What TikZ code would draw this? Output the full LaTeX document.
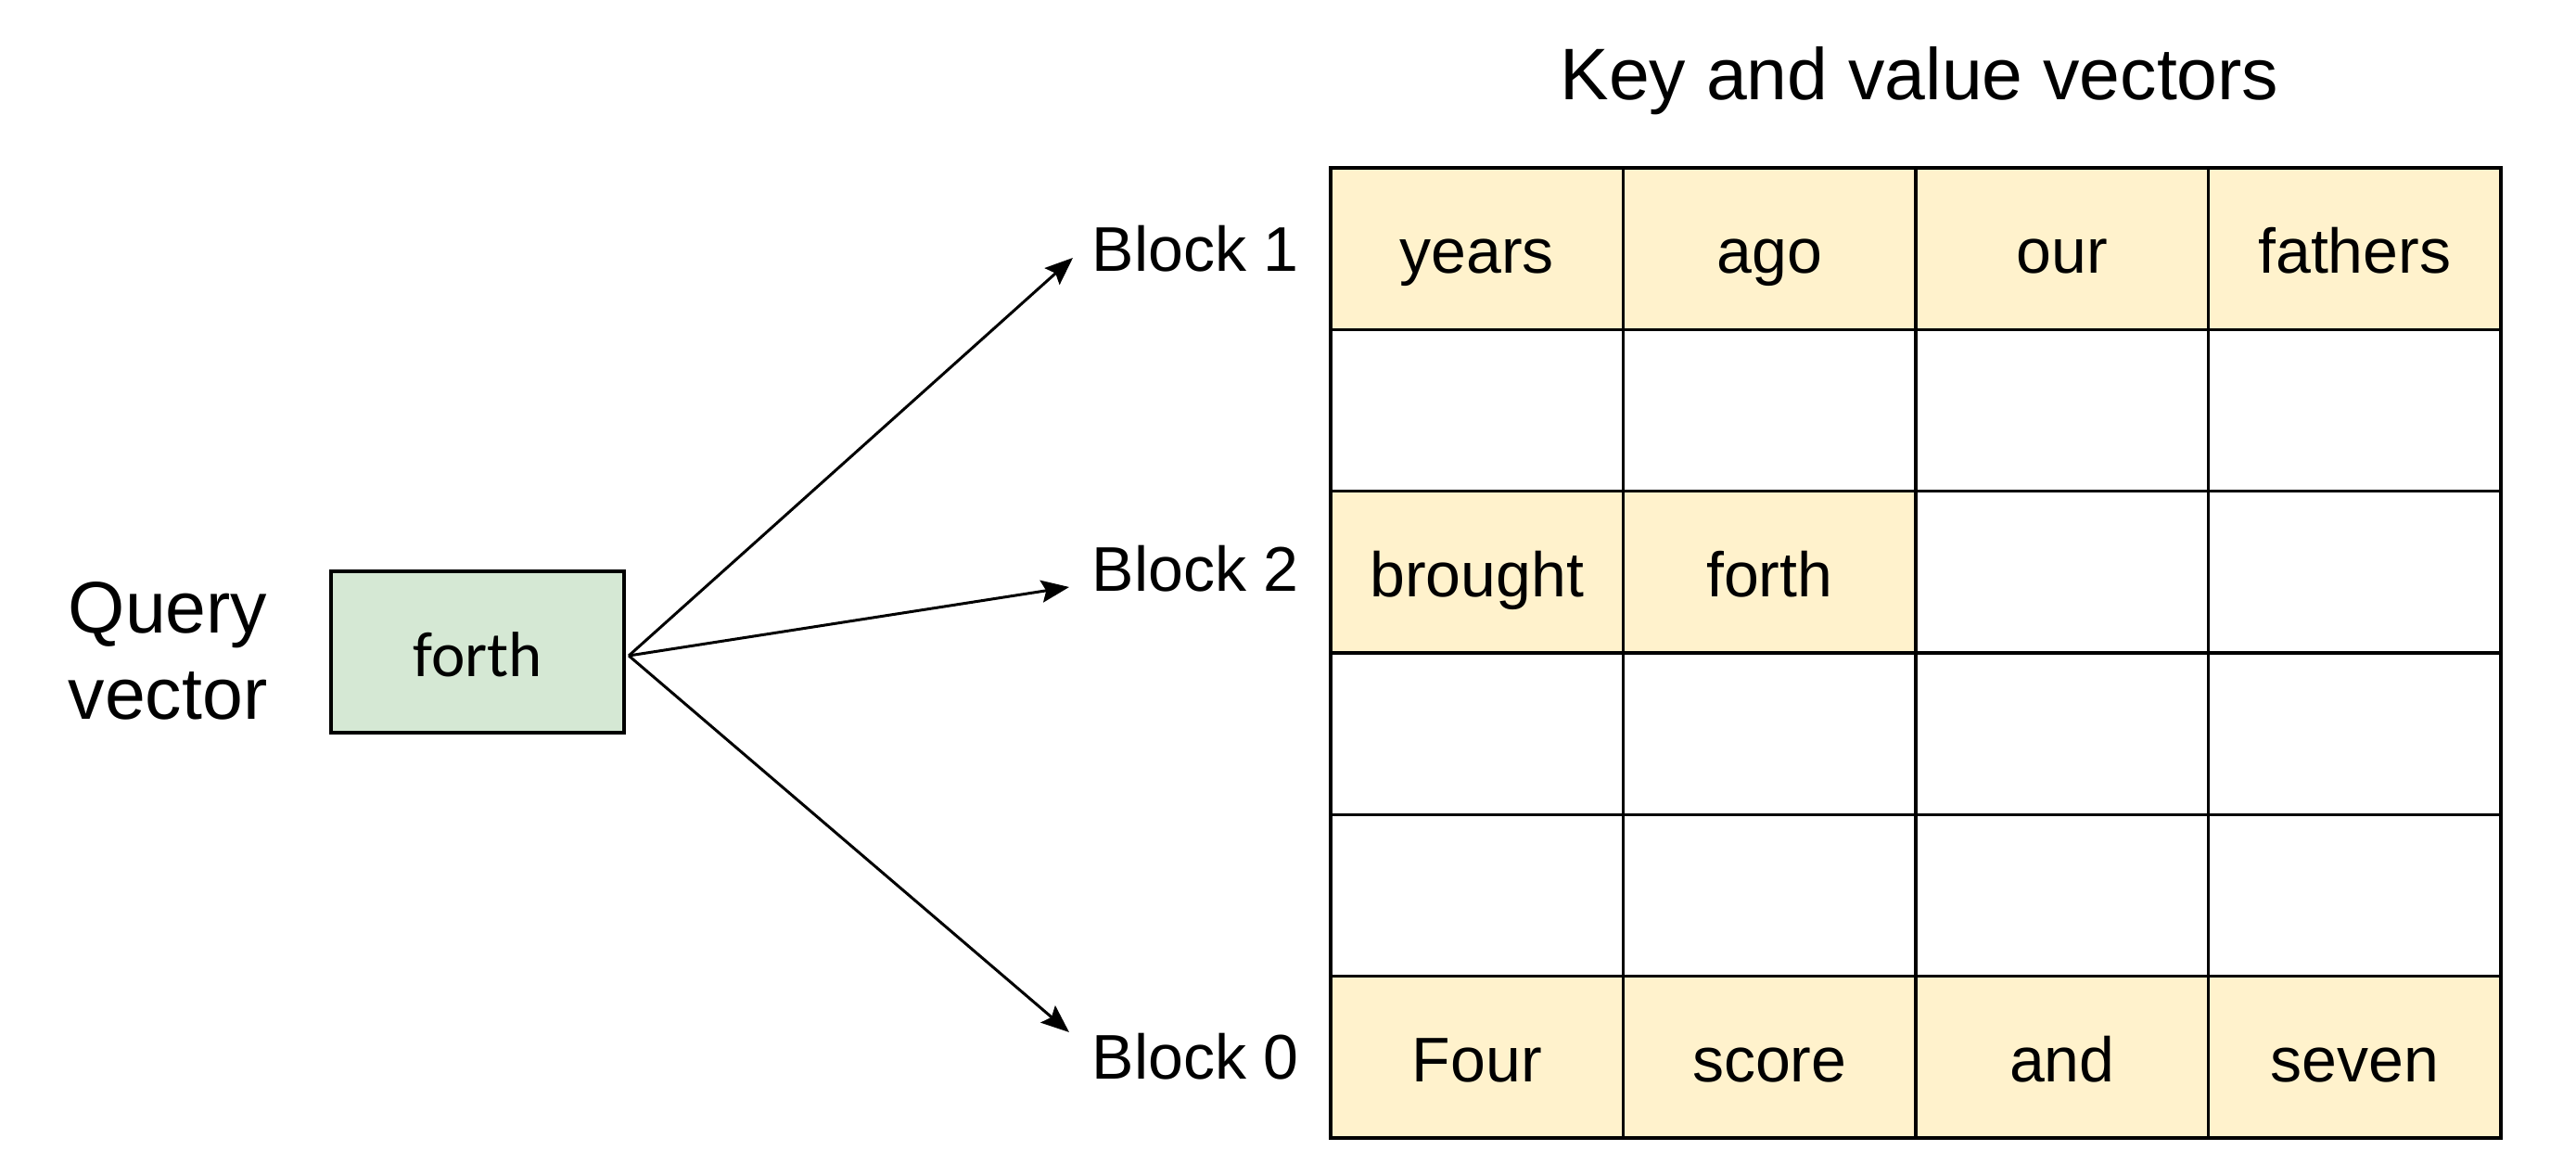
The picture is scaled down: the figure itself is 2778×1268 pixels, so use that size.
\documentclass[tikz,border=0pt]{standalone}
\usepackage{fontspec}
\setmainfont{Liberation Sans}
\newfontfamily\calfont{Carlito}
\usetikzlibrary{arrows.meta}
\definecolor{cellyellow}{HTML}{FFF2CC}
\definecolor{qgreen}{HTML}{D5E8D4}
\begin{document}
\begin{tikzpicture}[x=0.01cm,y=-0.01cm,
  cellfont/.style={font=\fontsize{19.35pt}{23pt}\selectfont},
  titlefont/.style={font=\fontsize{22.4pt}{26.5pt}\selectfont},
  cell/.style={draw=black, line width=0.032cm, minimum width=3.155cm, minimum height=1.7433cm,
    inner sep=0pt, outer sep=0pt, text height=0.53cm, text depth=0pt, cellfont},
  ycell/.style={cell, fill=cellyellow},
  wcell/.style={cell, fill=white},
  blocklabel/.style={cellfont, anchor=base west, inner sep=0pt},
  arrowline/.style={line width=0.03cm, -{Stealth[length=0.3cm, width=0.24cm, inset=0.05cm]}}
]
\useasboundingbox (0,0) rectangle (2778,1268);
\fill[white] (0,0) rectangle (2778,1268);

% title
\node[titlefont, anchor=base, inner sep=0pt] (title) at (2070,108) {Key and value vectors};

% grid cells
\node[ycell] (c00) at (1592.75,268.17) {years};
\node[ycell] (c01) at (1908.25,268.17) {ago};
\node[ycell] (c02) at (2223.75,268.17) {our};
\node[ycell] (c03) at (2539.25,268.17) {fathers};
\node[wcell] (c10) at (1592.75,442.50) {};
\node[wcell] (c11) at (1908.25,442.50) {};
\node[wcell] (c12) at (2223.75,442.50) {};
\node[wcell] (c13) at (2539.25,442.50) {};
\node[ycell] (c20) at (1592.75,616.83) {brought};
\node[ycell] (c21) at (1908.25,616.83) {forth};
\node[wcell] (c22) at (2223.75,616.83) {};
\node[wcell] (c23) at (2539.25,616.83) {};
\node[wcell] (c30) at (1592.75,791.17) {};
\node[wcell] (c31) at (1908.25,791.17) {};
\node[wcell] (c32) at (2223.75,791.17) {};
\node[wcell] (c33) at (2539.25,791.17) {};
\node[wcell] (c40) at (1592.75,965.50) {};
\node[wcell] (c41) at (1908.25,965.50) {};
\node[wcell] (c42) at (2223.75,965.50) {};
\node[wcell] (c43) at (2539.25,965.50) {};
\node[ycell] (c50) at (1592.75,1139.83) {Four};
\node[ycell] (c51) at (1908.25,1139.83) {score};
\node[ycell] (c52) at (2223.75,1139.83) {and};
\node[ycell] (c53) at (2539.25,1139.83) {seven};
\draw[line width=0.042cm] (c00.north west) rectangle (c53.south east);

% block labels
\node[blocklabel] (b1) at (1177,293) {Block 1};
\node[blocklabel] (b2) at (1177,638) {Block 2};
\node[blocklabel] (b0) at (1177,1164) {Block 0};

% query
\node[titlefont, anchor=base, inner sep=0pt] (ql1) at (181,683) {Query};
\node[titlefont, anchor=base, inner sep=0pt] (ql2) at (181,776) {vector};
\node[draw=black, fill=qgreen, line width=0.042cm, minimum width=3.16cm, minimum height=1.74cm,
  inner sep=0pt, outer sep=0pt, text height=0.52cm, text depth=0pt,
  font=\calfont\fontsize{19.6pt}{23pt}\selectfont] (q) at (515,703) {forth};

% arrows
\coordinate (qs) at ([xshift=0.05cm, yshift=-0.04cm]q.east);
\coordinate (t1) at ([xshift=-0.2cm, yshift=0.15cm]b1.base west);
\coordinate (t2) at ([xshift=-0.24cm, yshift=0.05cm]b2.base west);
\coordinate (t0) at ([xshift=-0.24cm, yshift=0.51cm]b0.base west);
\draw[arrowline] (qs) -- (t1);
\draw[arrowline] (qs) -- (t2);
\draw[arrowline] (qs) -- (t0);
\end{tikzpicture}
\end{document}
